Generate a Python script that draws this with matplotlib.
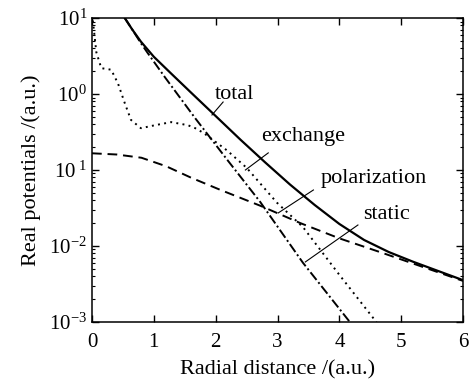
#!/usr/bin/env python3
"""
Real potentials (static, exchange, polarization, total) versus radial distance.
"""

import matplotlib
matplotlib.use("Agg")
import matplotlib.pyplot as plt
from matplotlib import ticker

FIG_SIZE = (4.73, 3.84)
SERIF = "Liberation Serif"

plt.rcParams["font.family"] = [SERIF, "DejaVu Serif"]
plt.rcParams["mathtext.fontset"] = "custom"
plt.rcParams["mathtext.rm"] = SERIF
plt.rcParams["mathtext.it"] = SERIF

# values (a.u.)
total_r = [0.53, 0.65, 0.79, 1.0, 1.28, 1.6, 2.0, 2.4, 2.8, 3.2, 3.6, 4.0,
           4.4, 4.8, 5.2, 5.6, 6.0]
total_v = [10.0, 7.08, 4.90, 3.09, 1.86, 1.047, 0.513, 0.251, 0.126, 0.0646,
           0.0347, 0.0195, 0.0120, 0.00832, 0.00617, 0.00468, 0.00355]

static_r = [0.53, 0.65, 0.79, 0.9, 1.18, 1.67, 2.2, 2.72, 3.41, 4.14, 4.17]
static_v = [10.0, 7.08, 4.68, 3.47, 1.66, 0.479, 0.132, 0.038, 0.00603,
            0.00107, 0.001]

exchange_r = [0.0, 0.03, 0.07, 0.15, 0.31, 0.42, 0.53, 0.63, 0.79, 1.02,
              1.28, 1.55, 1.67, 1.8, 2.18, 2.5, 2.99, 3.41, 4.0, 4.55, 4.6]
exchange_v = [11.2, 7.08, 3.55, 2.19, 2.09, 1.38, 0.759, 0.457, 0.355, 0.389,
              0.427, 0.389, 0.355, 0.309, 0.182, 0.107, 0.0372, 0.0178,
              0.00417, 0.00112, 0.001]

polar_r = [0.0, 0.4, 0.8, 1.2, 1.6, 2.07, 2.72, 3.37, 4.0, 4.66, 5.26, 6.0]
polar_v = [0.166, 0.160, 0.145, 0.112, 0.0794, 0.055, 0.0339, 0.020, 0.0126,
           0.0083, 0.00562, 0.00347]

x_ticks = [0, 1, 2, 3, 4, 5, 6]
y_ticks = [1e-3, 1e-2, 1e-1, 1e0, 1e1]
y_tick_labels = [r"$10^{-3}$", r"$10^{-2}$", r"$10^{\ 1}$", r"$10^{0}$",
                 r"$10^{1}$"]

# (label, text position, leader start, leader end)
labels = [
    ("total", (2.31, 1.0), (2.12, 0.785), (1.94, 0.53)),
    ("exchange", (3.41, 0.272), (2.85, 0.168), (2.48, 0.10)),
    ("polarization", (4.56, 0.0762), (3.58, 0.0546), (3.01, 0.0272)),
    ("static", (4.76, 0.0256), (4.30, 0.0189), (3.45, 0.00617)),
]


def main():
    """
    Draw the figure and save it.
    """
    fig = plt.figure(figsize=FIG_SIZE, dpi=100)
    axes = fig.add_axes([0.1945, 0.1615, 0.7845, 0.7915])

    axes.plot(total_r, total_v, color="black", linewidth=1.6,
              linestyle="-")
    axes.plot(static_r, static_v, color="black", linewidth=1.4,
              linestyle=(0, (5, 1.5, 1, 1.5)))
    axes.plot(exchange_r, exchange_v, color="black", linewidth=1.4,
              linestyle=(0, (1, 2.2)))
    axes.plot(polar_r, polar_v, color="black", linewidth=1.4,
              linestyle=(0, (5, 3)))

    for text, pos, start, end in labels:
        axes.text(pos[0], pos[1], text, fontsize=16, ha="center",
                  va="center")
        axes.plot([start[0], end[0]], [start[1], end[1]], color="black",
                  linewidth=0.8)

    axes.set_yscale("log")
    axes.set_xlim(0, 6)
    axes.set_ylim(1e-3, 1e1)
    axes.set_xticks(x_ticks)
    axes.set_yticks(y_ticks)
    axes.set_yticklabels(y_tick_labels)
    axes.yaxis.set_minor_locator(
        ticker.LogLocator(base=10, subs=range(2, 10), numticks=20))
    axes.yaxis.set_minor_formatter(ticker.NullFormatter())
    axes.tick_params(which="both", direction="in", top=True, right=True,
                     labelsize=15)
    axes.tick_params(axis="x", which="major", pad=8)
    axes.tick_params(which="major", length=5, width=1.0)
    axes.tick_params(which="minor", length=2.5, width=0.8)
    for spine in axes.spines.values():
        spine.set_linewidth(1.1)

    axes.set_xlabel("Radial distance /(a.u.)", fontsize=16, labelpad=6)
    axes.set_ylabel("Real potentials /(a.u.)", fontsize=16, labelpad=6)

    fig.savefig("out.png", dpi=100)


if __name__ == "__main__":
    main()
